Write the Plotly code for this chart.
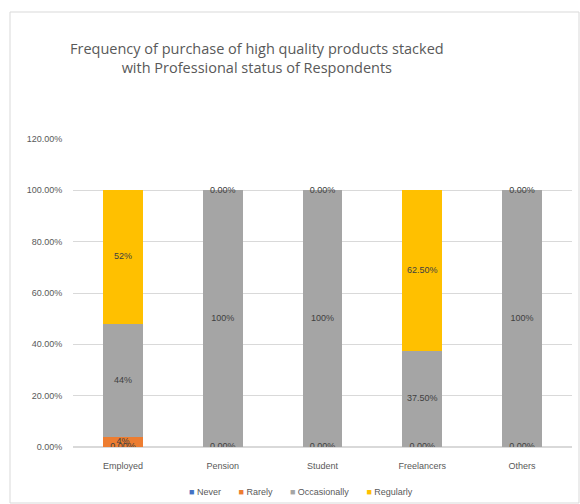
import plotly.graph_objects as go

categories = ["Employed", "Pension", "Student", "Freelancers", "Others"]
series_names = ["Never", "Rarely", "Occasionally", "Regularly"]
never = [0.0, 0.0, 0.0, 0.0, 0.0]
rarely = [0.04, 0.0, 0.0, 0.0, 0.0]
occasionally = [0.44, 1.0, 1.0, 0.375, 1.0]
regularly = [0.52, 0.0, 0.0, 0.625, 0.0]
never_labels = ["0.00%", "0.00%", "0.00%", "0.00%", "0.00%"]
rarely_labels = ["4%", "", "", "", ""]
occasionally_labels = ["44%", "100%", "100%", "37.50%", "100%"]
regularly_labels = ["52%", "0.00%", "0.00%", "62.50%", "0.00%"]
tick_vals = [0, 0.2, 0.4, 0.6, 0.8, 1.0, 1.2]
tick_text = ["0.00%", "20.00%", "40.00%", "60.00%", "80.00%", "100.00%", "120.00%"]

colors = ["#4472C4", "#ED7D31", "#A5A5A5", "#FFC000"]
all_series = [never, rarely, occasionally, regularly]
all_labels = [never_labels, rarely_labels, occasionally_labels, regularly_labels]

fig = go.Figure()
for name, vals, col in zip(series_names, all_series, colors):
    fig.add_trace(go.Bar(x=categories, y=vals, name=name, marker_color=col,
                         marker_line_width=0, hoverinfo="skip", showlegend=False))

# data labels at segment centres
base = [0.0] * len(categories)
for vals, labs in zip(all_series, all_labels):
    mids = [b + v / 2 for b, v in zip(base, vals)]
    fig.add_trace(go.Scatter(x=categories, y=mids, text=labs, mode="text",
                             textposition="middle center", showlegend=False,
                             textfont=dict(size=9, color="#404040",
                                           family="Liberation Sans"),
                             hoverinfo="skip"))
    base = [b + v for b, v in zip(base, vals)]

L, R, T, B = 73, 8, 139, 57
W, H = 580, 504
pw, ph = W - L - R, H - T - B

def px_x(x):
    return (x - L) / pw

def px_y(y):
    return (H - B - y) / ph

fig.add_shape(type="rect", xref="paper", yref="paper",
              x0=px_x(10), x1=px_x(579), y0=px_y(503), y1=px_y(12),
              line=dict(color="#D9D9D9", width=1), fillcolor="rgba(0,0,0,0)",
              layer="below")

fig.add_annotation(text="Frequency of purchase of high quality products stacked<br>with Professional status of Respondents",
                   xref="paper", yref="paper", x=px_x(257), y=px_y(58),
                   xanchor="center", yanchor="middle", showarrow=False,
                   font=dict(size=14.5, color="#595959", family="Open Sans"))

# legend drawn as text
legend_text = "&nbsp;&nbsp;&nbsp;&nbsp;&nbsp;&nbsp;&nbsp;".join(
    f"<span style='color:{c}'>■</span>&nbsp;{n}" for n, c in zip(series_names, colors))
fig.add_annotation(text=legend_text, xref="paper", yref="paper",
                   x=px_x(301), y=px_y(492), xanchor="center", yanchor="middle",
                   showarrow=False, font=dict(size=9, color="#595959",
                                              family="Liberation Sans"))

fig.update_layout(
    width=W, height=H, barmode="stack", bargap=0.6,
    margin=dict(l=L, r=R, t=T, b=B, autoexpand=False),
    paper_bgcolor="white", plot_bgcolor="white",
    font=dict(family="Liberation Sans", size=9, color="#595959"),
    showlegend=False,
    xaxis=dict(showgrid=False, showline=False, ticks="outside", ticklen=10,
               tickcolor="white", tickfont=dict(size=9, color="#595959")),
    yaxis=dict(range=[0, 1.2], tickvals=tick_vals, ticktext=tick_text,
               showgrid=True, gridcolor="#D9D9D9", gridwidth=1,
               zeroline=True, zerolinecolor="#D9D9D9", showline=False,
               tickfont=dict(size=9, color="#595959"), ticklen=8,
               ticks="outside", tickcolor="white"),
)

fig.write_html("out.html")
